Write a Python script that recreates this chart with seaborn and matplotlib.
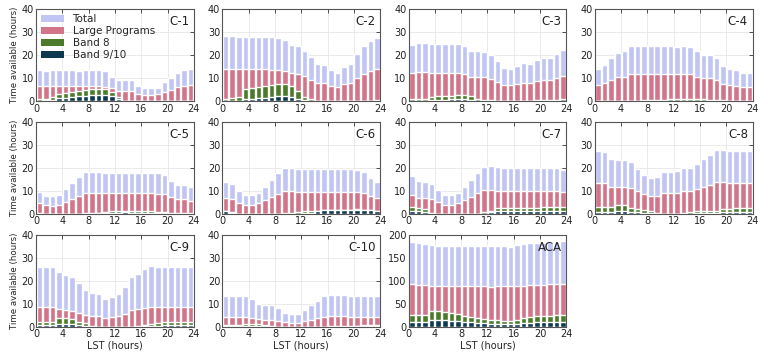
import numpy as np
import pandas as pd
import matplotlib
matplotlib.use("Agg")
import matplotlib.pyplot as plt
import seaborn as sns
from matplotlib.patches import Patch

# ==========================================================
# DATA (hours available per LST hour)
# ==========================================================

LST = np.arange(24) + 0.5

C1_TOTAL = [13.5, 13.4, 13.5, 13.5, 13.5, 13.5, 13.4, 13.5, 13.5, 13.5, 13.2, 10.8,
            9.3, 9.3, 9.2, 6.8, 5.8, 5.8, 6.0, 8.5, 10.2, 12.3, 13.7, 14.2]
C1_LP = [6.7, 6.7, 6.7, 6.6, 6.6, 6.6, 6.5, 6.5, 6.5, 6.5, 6.3, 5.8,
         4.7, 4.7, 4.6, 3.4, 3.0, 3.0, 3.1, 4.2, 5.1, 6.1, 6.8, 7.0]
C1_B8 = [1.0, 1.2, 1.8, 3.2, 3.7, 4.0, 4.5, 5.0, 5.2, 5.3, 5.2, 4.0,
         1.8, 0.2, 0.1, 0, 0, 0, 0, 0, 0, 0, 0, 0]
C1_B910 = [0.3, 0.5, 0.8, 1.5, 1.7, 2.0, 2.2, 2.5, 2.7, 2.8, 2.8, 2.3,
           1.0, 0, 0, 0, 0, 0, 0, 0, 0, 0, 0, 0]

C2_TOTAL = [28.5, 28.2, 27.8, 27.7, 27.7, 27.9, 27.9, 27.9, 27.5, 26.8, 24.3, 23.8,
            21.8, 19.2, 16.3, 15.6, 13.8, 12.3, 14.9, 16.0, 20.4, 24.1, 26.0, 27.6]
C2_LP = [14.2, 14.0, 13.9, 13.9, 13.9, 13.9, 13.9, 13.8, 13.7, 13.3, 12.2, 11.8,
         10.9, 9.5, 8.2, 7.9, 6.9, 6.2, 7.4, 8.0, 10.2, 12.0, 13.0, 13.9]
C2_B8 = [1.2, 1.4, 1.8, 5.4, 5.9, 6.3, 6.8, 7.2, 7.5, 7.5, 6.7, 4.5,
         2.0, 1.0, 0, 0, 0, 0, 0, 0, 0.1, 0.2, 0.3, 0.8]
C2_B910 = [0.3, 0.3, 0.4, 1.0, 1.2, 1.5, 1.7, 2.0, 2.2, 2.2, 1.9, 1.2,
           0.6, 0.2, 0, 0, 0, 0, 0, 0, 0, 0, 0.1, 0.2]

C3_TOTAL = [24.5, 25.4, 25.3, 25.0, 25.0, 25.0, 25.0, 24.9, 24.1, 21.7, 21.8, 21.6,
            19.9, 17.5, 14.7, 14.0, 15.2, 16.7, 16.3, 18.1, 18.8, 18.7, 20.6, 22.3]
C3_LP = [12.2, 12.8, 12.7, 12.4, 12.4, 12.4, 12.4, 12.4, 11.9, 10.6, 10.6, 10.6,
         9.8, 8.5, 7.3, 7.0, 7.5, 8.2, 8.1, 8.9, 9.4, 9.3, 10.2, 11.1]
C3_B8 = [1.0, 1.0, 1.0, 1.9, 2.2, 2.4, 2.5, 2.6, 2.6, 2.3, 1.2, 0.6,
         0.5, 0.3, 0.2, 0.2, 0.2, 0.3, 0.4, 0.5, 0.5, 0.7, 0.8, 1.0]
C3_B910 = [0.2, 0.2, 0.3, 0.5, 0.6, 0.8, 0.9, 1.0, 1.0, 0.7, 0.3, 0.2,
           0.1, 0, 0, 0, 0, 0, 0.1, 0.1, 0.1, 0.2, 0.2, 0.2]

C4_TOTAL = [14.2, 15.9, 18.9, 21.0, 21.8, 23.8, 24.2, 23.9, 23.9, 23.9, 23.8, 23.8,
            23.7, 23.8, 23.7, 21.7, 20.3, 20.3, 18.7, 15.3, 14.0, 13.8, 12.5, 12.5]
C4_LP = [7.0, 8.0, 9.5, 10.4, 10.8, 12.0, 12.1, 12.0, 12.0, 12.0, 12.0, 11.8,
         11.8, 11.9, 11.9, 10.8, 10.1, 10.0, 9.5, 7.7, 7.0, 6.8, 6.2, 6.2]
C4_B8 = [0.1, 0.1, 0.1, 0.2, 0.2, 0.3, 0.4, 0.5, 0.6, 0.7, 0.8, 0.9,
         1.0, 1.1, 1.0, 0.9, 0.9, 0.8, 0.6, 0.5, 0.3, 0.2, 0.2, 0.1]
C4_B910 = [0, 0, 0, 0.1, 0.1, 0.1, 0.1, 0.2, 0.2, 0.2, 0.3, 0.3,
           0.3, 0.3, 0.3, 0.3, 0.3, 0.3, 0.2, 0.2, 0.1, 0.1, 0.1, 0]

C5_TOTAL = [9.7, 7.7, 7.7, 8.2, 11.0, 13.6, 16.0, 18.4, 18.4, 18.2, 17.9, 18.0,
            18.0, 18.0, 17.9, 18.0, 18.0, 18.0, 17.9, 17.2, 14.6, 12.8, 12.8, 11.8]
C5_LP = [4.9, 3.8, 3.7, 4.1, 5.5, 6.8, 8.0, 9.2, 9.2, 9.1, 9.0, 9.0,
         9.0, 9.0, 9.0, 9.0, 9.0, 9.0, 8.9, 8.6, 7.3, 6.4, 6.4, 5.9]
C5_B8 = [0.5, 0.3, 0.2, 0.2, 0.2, 0.3, 0.3, 0.5, 0.5, 0.7, 1.0, 1.2,
         1.4, 1.6, 1.5, 1.3, 1.2, 1.2, 1.1, 1.0, 0.7, 0.5, 0.5, 0.4]
C5_B910 = [0.2, 0.1, 0.1, 0.1, 0.1, 0.1, 0.1, 0.2, 0.3, 0.4, 0.5, 0.6,
           0.7, 0.8, 0.7, 0.6, 0.5, 0.5, 0.5, 0.4, 0.3, 0.2, 0.2, 0.2]

C6_TOTAL = [13.8, 13.0, 10.1, 8.5, 8.4, 9.3, 12.0, 14.9, 17.8, 20.2, 20.2, 19.5,
            19.5, 19.5, 19.5, 19.5, 19.5, 19.5, 19.5, 19.5, 19.3, 18.5, 15.8, 13.8]
C6_LP = [6.9, 6.5, 5.0, 4.2, 4.2, 4.7, 6.0, 7.5, 8.9, 10.1, 10.1, 9.8,
         9.8, 9.8, 9.8, 9.8, 9.8, 9.8, 9.8, 9.8, 9.7, 9.3, 7.9, 6.9]
C6_B8 = [1.3, 0.8, 0.2, 0.1, 0.1, 0.1, 0.1, 0.2, 0.3, 0.5, 0.7, 1.1,
         1.2, 1.4, 1.6, 1.7, 1.9, 2.0, 2.0, 2.0, 2.1, 2.0, 1.8, 1.6]
C6_B910 = [1.2, 0.7, 0.1, 0, 0, 0, 0, 0, 0, 0, 0.1, 0.2,
           0.4, 0.7, 1.5, 1.7, 1.8, 1.9, 1.9, 1.9, 2.0, 1.9, 1.7, 1.5]

C7_TOTAL = [16.4, 14.5, 14.1, 13.3, 10.4, 8.5, 8.5, 9.3, 12.0, 14.9, 17.9, 20.5,
            20.8, 20.3, 20.2, 20.1, 20.1, 20.1, 20.2, 20.1, 20.2, 20.1, 20.1, 19.3]
C7_LP = [8.2, 7.2, 7.1, 6.7, 5.2, 4.2, 4.2, 4.7, 6.0, 7.5, 9.0, 10.3,
         10.4, 10.2, 10.1, 10.0, 10.0, 10.0, 10.1, 10.0, 10.1, 10.0, 10.0, 9.6]
C7_B8 = [3.1, 2.8, 2.1, 0.6, 0.1, 0, 0, 0, 0, 0.1, 0.3, 0.8,
         1.6, 2.5, 2.5, 2.6, 2.6, 2.8, 2.8, 2.9, 3.0, 3.1, 3.2, 3.2]
C7_B910 = [1.6, 1.4, 1.0, 0.3, 0, 0, 0, 0, 0, 0, 0.1, 0.3,
           0.8, 1.2, 1.2, 1.3, 1.3, 1.4, 1.4, 1.5, 1.5, 1.6, 1.6, 1.6]

C8_TOTAL = [27.2, 26.9, 23.8, 23.5, 23.5, 22.4, 19.8, 17.2, 15.6, 16.0, 18.4, 18.1,
            18.9, 20.1, 20.1, 21.7, 23.7, 25.6, 27.6, 27.8, 27.4, 27.2, 27.4, 27.4]
C8_LP = [13.6, 13.4, 11.9, 11.7, 11.7, 11.2, 9.9, 8.6, 7.8, 8.0, 9.2, 9.0,
         9.4, 10.0, 10.0, 10.8, 11.8, 12.8, 13.8, 13.9, 13.7, 13.6, 13.7, 13.7]
C8_B8 = [3.0, 3.1, 3.0, 4.2, 4.0, 2.8, 2.4, 2.0, 1.5, 0.6, 0.2, 0.2,
         0.3, 0.5, 0.8, 1.2, 1.3, 1.5, 1.6, 2.1, 2.2, 2.5, 2.6, 2.9]
C8_B910 = [1.0, 1.0, 1.0, 1.3, 1.3, 1.0, 0.8, 0.6, 0.4, 0.1, 0, 0,
           0.1, 0.2, 0.3, 0.5, 0.5, 0.6, 0.6, 0.8, 0.8, 0.9, 1.0, 1.0]

C9_TOTAL = [26.0, 26.0, 25.8, 23.7, 22.5, 21.5, 19.0, 16.2, 14.8, 14.3, 12.0, 13.2,
            14.5, 17.5, 21.8, 23.0, 25.2, 26.5, 26.1, 25.8, 26.0, 26.0, 25.8, 25.8]
C9_LP = [8.7, 8.7, 8.6, 7.9, 7.5, 7.1, 6.3, 5.4, 4.9, 4.7, 4.0, 4.4,
         4.8, 5.8, 7.3, 7.7, 8.4, 8.8, 8.7, 8.6, 8.7, 8.7, 8.6, 8.6]
C9_B8 = [2.3, 2.3, 2.4, 4.0, 4.0, 3.6, 2.2, 1.7, 0.6, 0.1, 0, 0,
         0, 0, 0, 0.3, 1.0, 1.3, 1.6, 2.0, 2.2, 2.3, 2.3, 2.3]
C9_B910 = [0.8, 0.8, 0.8, 1.3, 1.3, 1.2, 0.7, 0.5, 0.2, 0, 0, 0,
           0, 0, 0, 0.1, 0.3, 0.4, 0.5, 0.7, 0.8, 0.8, 0.8, 0.8]

C10_TOTAL = [13.6, 13.6, 13.6, 13.6, 12.0, 10.0, 9.7, 9.7, 8.1, 6.1, 5.8, 5.8,
             7.5, 9.7, 11.4, 13.6, 14.0, 13.8, 13.7, 13.6, 13.6, 13.6, 13.6, 13.6]
C10_LP = [4.5, 4.5, 4.5, 4.5, 4.0, 3.3, 3.2, 3.2, 2.7, 2.0, 1.9, 1.9,
          2.5, 3.2, 3.8, 4.5, 4.7, 4.6, 4.6, 4.5, 4.5, 4.5, 4.5, 4.5]
C10_B8 = [0.7, 0.7, 0.8, 1.3, 1.5, 1.2, 1.0, 0.5, 0.2, 0, 0, 0,
          0, 0, 0, 0.1, 0.3, 0.4, 0.5, 0.6, 0.6, 0.7, 0.7, 0.7]
C10_B910 = [0.3, 0.3, 0.3, 0.5, 0.6, 0.5, 0.4, 0.2, 0.1, 0, 0, 0,
            0, 0, 0, 0, 0.1, 0.2, 0.2, 0.2, 0.3, 0.3, 0.3, 0.3]

ACA_TOTAL = [185, 182, 179, 177, 175, 175, 175, 175, 175, 175, 175, 175,
             175, 175, 175, 174, 177, 179, 181, 182, 182, 183, 185, 186]
ACA_LP = [92.5, 91.5, 90, 88.5, 88, 88, 88, 88, 88, 88, 88, 88,
          87.5, 88, 88, 88, 88.5, 89.5, 90.5, 91, 92, 93, 93.5, 93]
ACA_B8 = [27, 27, 27, 35, 34, 32, 30, 28, 24, 22, 20, 18,
          16, 16, 14, 14, 16, 19, 21, 23, 24, 25, 26, 26]
ACA_B910 = [12, 12, 12, 16, 16, 15, 14, 13, 11, 10, 9, 8,
            7, 7, 6, 6, 7, 8, 9, 10, 11, 11, 12, 12]

PANELS = ["C-1", "C-2", "C-3", "C-4", "C-5", "C-6", "C-7", "C-8", "C-9", "C-10", "ACA"]
SERIES = {
    "C-1": (C1_TOTAL, C1_LP, C1_B8, C1_B910),
    "C-2": (C2_TOTAL, C2_LP, C2_B8, C2_B910),
    "C-3": (C3_TOTAL, C3_LP, C3_B8, C3_B910),
    "C-4": (C4_TOTAL, C4_LP, C4_B8, C4_B910),
    "C-5": (C5_TOTAL, C5_LP, C5_B8, C5_B910),
    "C-6": (C6_TOTAL, C6_LP, C6_B8, C6_B910),
    "C-7": (C7_TOTAL, C7_LP, C7_B8, C7_B910),
    "C-8": (C8_TOTAL, C8_LP, C8_B8, C8_B910),
    "C-9": (C9_TOTAL, C9_LP, C9_B8, C9_B910),
    "C-10": (C10_TOTAL, C10_LP, C10_B8, C10_B910),
    "ACA": (ACA_TOTAL, ACA_LP, ACA_B8, ACA_B910),
}

LABELS = ["Total", "Large Programs", "Band 8", "Band 9/10"]
COLORS = ["#c0c5f4", "#d27589", "#4a7a2a", "#0e3a4f"]

# ==========================================================
# FIGURE
# ==========================================================

sns.set_theme(style="whitegrid")
plt.rcParams["font.family"] = ["DejaVu Sans"]

fig, axes = plt.subplots(3, 4, figsize=(7.68, 3.61), dpi=100)
fig.subplots_adjust(left=0.047, right=0.98, top=0.975, bottom=0.094,
                    wspace=0.18, hspace=0.22)

for i, ax in enumerate(axes.flat):
    if i >= len(PANELS):
        ax.remove()
        continue
    name = PANELS[i]
    for vals, color in zip(SERIES[name], COLORS):
        sns.barplot(x=LST, y=vals, color=color, native_scale=True, width=0.85,
                    saturation=1, errorbar=None, ax=ax, zorder=2)

    ax.set_xlim(0, 24)
    ax.set_xticks(range(0, 25, 4))
    if name == "ACA":
        ax.set_ylim(0, 200)
        ax.set_yticks(range(0, 201, 50))
    else:
        ax.set_ylim(0, 40)
        ax.set_yticks(range(0, 41, 10))

    ax.grid(True, color="#e6e6e6", linewidth=0.6, zorder=0)
    ax.set_axisbelow(True)
    for sp in ax.spines.values():
        sp.set_color("#555555")
        sp.set_linewidth(0.8)
    ax.tick_params(direction="in", length=3, width=0.6, labelsize=7,
                   pad=1.5, top=True, right=True, colors="#333333",
                   labelcolor="#222222")
    ax.text(0.97, 0.93, name, transform=ax.transAxes, ha="right", va="top",
            fontsize=8.5, color="#222222")

    ax.set_xlabel("LST (hours)" if i >= 8 else "", fontsize=7, labelpad=1)
    ax.set_ylabel("Time available (hours)" if i % 4 == 0 else "", fontsize=6.2,
                  labelpad=2)

handles = [Patch(facecolor=c, edgecolor="none", label=l) for l, c in zip(LABELS, COLORS)]
axes[0, 0].legend(handles=handles, loc="upper left", fontsize=7.5, frameon=False,
                  handlelength=2.2, handleheight=0.7, labelspacing=0.2,
                  borderaxespad=0.2, borderpad=0.3, handletextpad=0.8)

plt.savefig("out.png", dpi=100)
